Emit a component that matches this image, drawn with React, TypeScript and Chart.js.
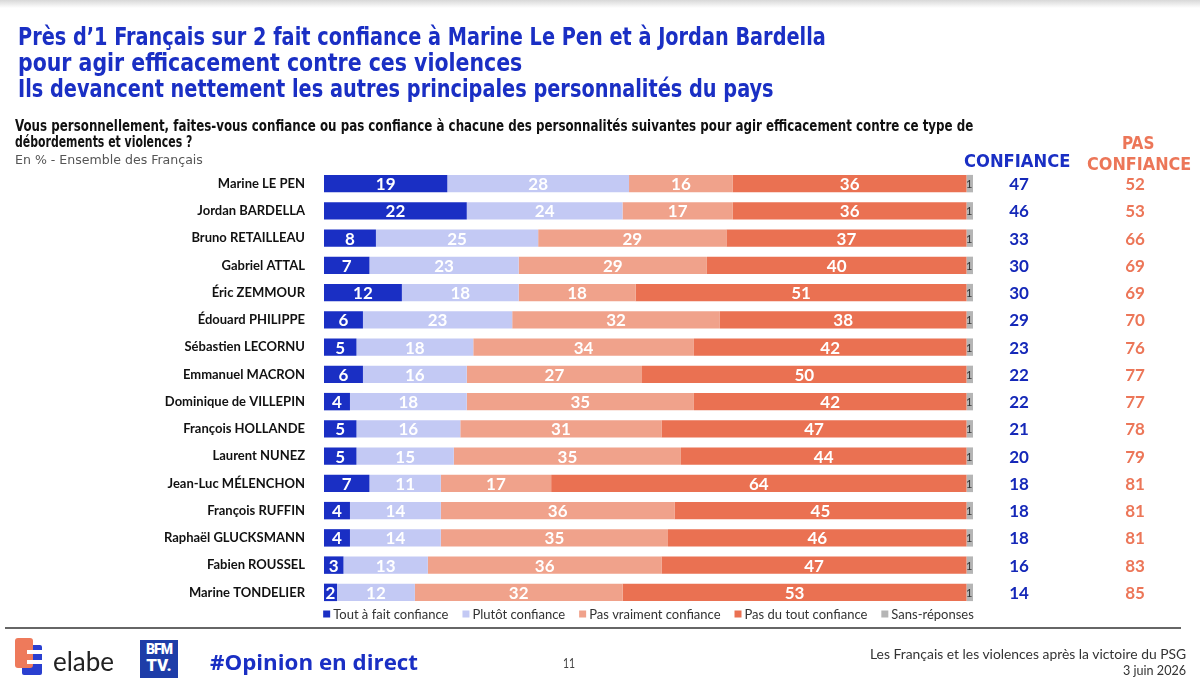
import React, { useEffect, useLayoutEffect, useRef } from "react";
import { Chart, registerables } from "chart.js";

Chart.register(...registerables);

const NAMES = [
  "Marine LE PEN",
  "Jordan BARDELLA",
  "Bruno RETAILLEAU",
  "Gabriel ATTAL",
  "Éric ZEMMOUR",
  "Édouard PHILIPPE",
  "Sébastien LECORNU",
  "Emmanuel MACRON",
  "Dominique de VILLEPIN",
  "François HOLLANDE",
  "Laurent NUNEZ",
  "Jean-Luc MÉLENCHON",
  "François RUFFIN",
  "Raphaël GLUCKSMANN",
  "Fabien ROUSSEL",
  "Marine TONDELIER",
];
const TOUT_A_FAIT = [19, 22, 8, 7, 12, 6, 5, 6, 4, 5, 5, 7, 4, 4, 3, 2];
const PLUTOT = [28, 24, 25, 23, 18, 23, 18, 16, 18, 16, 15, 11, 14, 14, 13, 12];
const PAS_VRAIMENT = [16, 17, 29, 29, 18, 32, 34, 27, 35, 31, 35, 17, 36, 35, 36, 32];
const PAS_DU_TOUT = [36, 36, 37, 40, 51, 38, 42, 50, 42, 47, 44, 64, 45, 46, 47, 53];
const SANS_REPONSE = [1, 1, 1, 1, 1, 1, 1, 1, 1, 1, 1, 1, 1, 1, 1, 1];
const CONFIANCE = [47, 46, 33, 30, 30, 29, 23, 22, 22, 21, 20, 18, 18, 18, 16, 14];
const PAS_CONFIANCE = [52, 53, 66, 69, 69, 70, 76, 77, 77, 78, 79, 81, 81, 81, 83, 85];
const SERIES_LABELS = [
  "Tout à fait confiance",
  "Plutôt confiance",
  "Pas vraiment confiance",
  "Pas du tout confiance",
  "Sans-réponses",
];

const COLORS = ["#1a2fc4", "#c3c9f4", "#f0a28b", "#ea7152", "#b5b5b5"];
const BLUE = "#1a2fc4";
const NUM_BLUE = "#1528b8";
const SALMON = "#ec7658";

const segLabels = {
  id: "segLabels",
  afterDatasetsDraw(chart: any) {
    const ctx = chart.ctx;
    chart.data.datasets.forEach((ds: any, di: number) => {
      const meta = chart.getDatasetMeta(di);
      meta.data.forEach((el: any, i: number) => {
        const v = ds.data[i];
        const { x, y, base } = el.getProps(["x", "y", "base"], true);
        ctx.save();
        ctx.textBaseline = "middle";
        if (di === 4) {
          ctx.font = "11px Lato";
          ctx.fillStyle = "#333";
          ctx.textAlign = "right";
          ctx.fillText(String(v), x - 0.5, y + 1);
        } else {
          ctx.font = "bold 17px Lato";
          ctx.fillStyle = "#ffffff";
          ctx.textAlign = "center";
          ctx.fillText(String(v), (x + base) / 2, y + 1);
        }
        ctx.restore();
      });
    });
  },
};

const sideColumns = {
  id: "sideColumns",
  afterDatasetsDraw(chart: any) {
    const ctx = chart.ctx;
    const meta = chart.getDatasetMeta(0);
    ctx.save();
    ctx.font = "bold 17px Lato";
    ctx.textAlign = "center";
    ctx.textBaseline = "middle";
    meta.data.forEach((el: any, i: number) => {
      ctx.fillStyle = NUM_BLUE;
      ctx.fillText(String(CONFIANCE[i]), 1019, el.y + 1);
      ctx.fillStyle = SALMON;
      ctx.fillText(String(PAS_CONFIANCE[i]), 1135, el.y + 1);
    });
    ctx.restore();
  },
};

const bottomLegend = {
  id: "bottomLegend",
  afterDraw(chart: any) {
    const ctx = chart.ctx;
    const { left, right } = chart.chartArea;
    const y = 614;
    ctx.save();
    ctx.font = "13px Lato";
    ctx.textBaseline = "middle";
    const sq = 7;
    const gapIn = 3;
    const gapOut = 14;
    const items = chart.data.datasets.map((ds: any) => ({
      label: ds.label,
      color: ds.backgroundColor,
      w: ctx.measureText(ds.label).width,
    }));
    const total =
      items.reduce((s: number, it: any) => s + sq + gapIn + it.w, 0) + gapOut * (items.length - 1);
    let x = (left + right) / 2 - total / 2;
    items.forEach((it: any) => {
      ctx.fillStyle = it.color;
      ctx.fillRect(x, y - sq / 2, sq, sq);
      x += sq + gapIn;
      ctx.fillStyle = "#333";
      ctx.textAlign = "left";
      ctx.fillText(it.label, x, y + 1);
      x += it.w + gapOut;
    });
    ctx.restore();
  },
};

function Fit({
  text,
  x,
  y,
  w,
  style,
  align = "left",
}: {
  text: string;
  x: number;
  y: number;
  w: number;
  style: React.CSSProperties;
  align?: "left" | "right" | "center";
}) {
  const ref = useRef<HTMLSpanElement>(null);
  useLayoutEffect(() => {
    const el = ref.current;
    if (!el) return;
    el.style.transform = "none";
    const actual = el.offsetWidth;
    if (actual > 0) el.style.transform = `scaleX(${w / actual})`;
  }, [text, w]);
  const left = align === "left" ? x : align === "right" ? x - w : x - w / 2;
  return (
    <div style={{ position: "absolute", left, top: y, width: w, height: 0 }}>
      <span
        ref={ref}
        style={{
          position: "absolute",
          left: 0,
          top: 0,
          whiteSpace: "nowrap",
          transformOrigin: "left top",
          lineHeight: 1,
          ...style,
        }}
      >
        {text}
      </span>
    </div>
  );
}

const TITLE = [
  "Près d’1 Français sur 2 fait confiance à Marine Le Pen et à Jordan Bardella",
  "pour agir efficacement contre ces violences",
  "Ils devancent nettement les autres principales personnalités du pays",
];
const QUESTION = [
  "Vous personnellement, faites-vous confiance ou pas confiance à chacune des personnalités suivantes pour agir efficacement contre ce type de",
  "débordements et violences ?",
];

export default function App() {
  const canvasRef = useRef<HTMLCanvasElement>(null);

  useEffect(() => {
    if (!canvasRef.current) return;
    const series = [TOUT_A_FAIT, PLUTOT, PAS_VRAIMENT, PAS_DU_TOUT, SANS_REPONSE];
    const chart = new Chart(canvasRef.current, {
      type: "bar",
      data: {
        labels: NAMES,
        datasets: series.map((d, i) => ({
          label: SERIES_LABELS[i],
          data: d,
          backgroundColor: COLORS[i],
          borderWidth: 0,
          barPercentage: 0.64,
          categoryPercentage: 1,
        })),
      },
      options: {
        indexAxis: "y",
        responsive: false,
        animation: false,
        devicePixelRatio: 1,
        layout: { padding: { top: 170, bottom: 79, left: 0, right: 227 } },
        scales: {
          x: { stacked: true, min: 0, max: 100, display: false },
          y: {
            stacked: true,
            grid: { display: false, drawTicks: false },
            border: { display: false },
            ticks: {
              autoSkip: false,
              padding: 19,
              color: "#111",
              font: { family: "Lato", weight: "bold", size: 13 },
            },
            afterFit: (s: any) => {
              s.width = 324;
            },
          },
        },
        plugins: {
          legend: { display: false },
          tooltip: { enabled: false },
        },
      } as any,
      plugins: [segLabels, sideColumns, bottomLegend],
    });
    return () => chart.destroy();
  }, []);

  const narrow = "'Liberation Sans Narrow', 'DejaVu Sans Condensed', 'Roboto', sans-serif";

  return (
    <div
      style={{
        position: "absolute",
        left: 0,
        top: 0,
        width: 1200,
        height: 685,
        overflow: "hidden",
        background: "#fff",
      }}
    >
      <div
        style={{
          position: "absolute",
          left: 0,
          top: 0,
          width: 1200,
          height: 8,
          background: "linear-gradient(#d8d8d8, #ffffff)",
        }}
      />
      <canvas
        ref={canvasRef}
        width={1200}
        height={685}
        style={{ position: "absolute", left: 0, top: 0, width: 1200, height: 685 }}
      />
      {TITLE.map((t, i) => (
        <Fit
          key={i}
          text={t}
          x={18}
          y={25 + i * 26}
          w={[808, 504, 756][i]}
          style={{ fontFamily: narrow, fontWeight: 700, fontSize: 24, color: BLUE }}
        />
      ))}
      <Fit
        text={QUESTION[0]}
        x={15}
        y={119}
        w={958}
        style={{ fontFamily: narrow, fontWeight: 700, fontSize: 15, color: "#111" }}
      />
      <Fit
        text={QUESTION[1]}
        x={15}
        y={135}
        w={177}
        style={{ fontFamily: narrow, fontWeight: 700, fontSize: 15, color: "#111" }}
      />
      <Fit
        text="En % - Ensemble des Français"
        x={15}
        y={153}
        w={188}
        style={{ fontFamily: narrow, fontSize: 13, color: "#555" }}
      />
      <Fit
        text="CONFIANCE"
        x={1017}
        y={152}
        w={106}
        align="center"
        style={{ fontFamily: narrow, fontWeight: 700, fontSize: 18, color: BLUE }}
      />
      <Fit
        text="PAS"
        x={1138}
        y={134}
        w={32}
        align="center"
        style={{ fontFamily: narrow, fontWeight: 700, fontSize: 18, color: SALMON }}
      />
      <Fit
        text="CONFIANCE"
        x={1139}
        y={155}
        w={104}
        align="center"
        style={{ fontFamily: narrow, fontWeight: 700, fontSize: 18, color: SALMON }}
      />

      {/* footer separator */}
      <div
        style={{
          position: "absolute",
          left: 5,
          top: 627,
          width: 1176,
          height: 2,
          background: "#666",
        }}
      />

      {/* elabe logo */}
      <div style={{ position: "absolute", left: 22, top: 645, width: 20, height: 30, background: "#2a3fd0", borderRadius: 2 }} />
      <div style={{ position: "absolute", left: 15, top: 638, width: 18, height: 30, background: "#ee7a5b", borderRadius: 3 }} />
      <div style={{ position: "absolute", left: 27, top: 650, width: 15, height: 4, background: "#fff" }} />
      <div style={{ position: "absolute", left: 27, top: 660, width: 15, height: 4, background: "#fff" }} />
      <Fit
        text="elabe"
        x={53}
        y={648}
        w={61}
        style={{ fontFamily: "Lato, sans-serif", fontSize: 26, color: "#222" }}
      />

      {/* BFM TV logo */}
      <div
        style={{
          position: "absolute",
          left: 140,
          top: 640,
          width: 38,
          height: 38,
          background: "#1e3da8",
          color: "#fff",
          fontFamily: "Roboto, sans-serif",
          fontWeight: 900,
          textAlign: "center",
          lineHeight: 1,
        }}
      >
        <div style={{ fontSize: 14, marginTop: 2, letterSpacing: -1 }}>BFM</div>
        <div style={{ fontSize: 17, marginTop: 1 }}>TV.</div>
      </div>
      <Fit
        text="#Opinion en direct"
        x={210}
        y={650}
        w={208}
        style={{ fontFamily: "'Open Sans', sans-serif", fontWeight: 700, fontSize: 22, color: BLUE }}
      />
      <Fit
        text="11"
        x={569}
        y={657}
        w={12}
        align="center"
        style={{ fontFamily: "Lato, sans-serif", fontSize: 13, color: "#444" }}
      />
      <Fit
        text="Les Français et les violences après la victoire du PSG"
        x={1186}
        y={648}
        w={316}
        align="right"
        style={{ fontFamily: "Lato, sans-serif", fontSize: 13, color: "#333" }}
      />
      <Fit
        text="3 juin 2026"
        x={1186}
        y={664}
        w={63}
        align="right"
        style={{ fontFamily: "Lato, sans-serif", fontSize: 13, color: "#333" }}
      />
    </div>
  );
}
